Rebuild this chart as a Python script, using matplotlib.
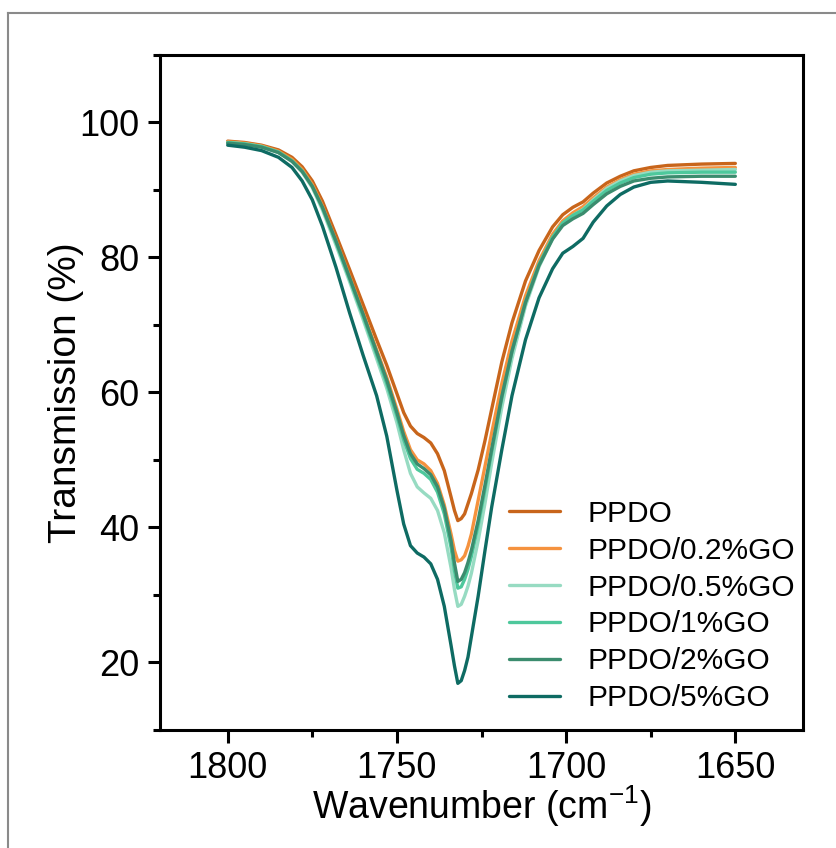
import matplotlib
matplotlib.use('Agg')
import matplotlib.pyplot as plt
from matplotlib.ticker import MultipleLocator
from matplotlib.lines import Line2D

plt.rcParams['font.family'] = ['Liberation Sans', 'DejaVu Sans']
plt.rcParams['mathtext.fontset'] = 'custom'
plt.rcParams['mathtext.rm'] = 'Liberation Sans'
plt.rcParams['mathtext.default'] = 'regular'

# wavenumber points (cm-1) shared by all spectra
wavenumber = [1800, 1795, 1790, 1785, 1781, 1778, 1775, 1772, 1768, 1764,
              1760, 1756, 1753, 1750, 1748, 1746, 1744, 1742, 1740, 1738,
              1736, 1734, 1733, 1732, 1731, 1730, 1729, 1728, 1726, 1724,
              1722, 1719, 1716, 1712, 1708, 1704, 1701, 1698, 1695, 1692,
              1688, 1684, 1680, 1675, 1670, 1660, 1650]

ppdo = [97.2, 97.0, 96.6, 95.9, 94.8, 93.4, 91.3, 88.3, 83.3, 78.2,
        73.0, 67.8, 64.0, 59.8, 57.0, 55.0, 53.9, 53.3, 52.5, 50.9,
        48.4, 44.5, 42.5, 41.0, 41.3, 42.0, 43.5, 45.0, 48.5, 52.8,
        57.5, 64.5, 70.3, 76.5, 81.0, 84.5, 86.3, 87.4, 88.2, 89.5,
        91.0, 92.0, 92.8, 93.3, 93.6, 93.8, 93.9]

go_02 = [97.1, 96.9, 96.5, 95.7, 94.5, 93.0, 90.8, 87.6, 82.5, 77.2,
         71.8, 66.3, 62.2, 57.5, 54.2, 51.5, 50.0, 49.4, 48.4, 46.5,
         43.3, 39.0, 36.6, 35.0, 35.2, 35.8, 37.2, 39.0, 44.0, 49.0,
         54.0, 61.3, 67.6, 74.3, 79.5, 83.4, 85.4, 86.6, 87.5, 88.8,
         90.4, 91.5, 92.3, 92.8, 93.0, 93.2, 93.3]

go_05 = [97.0, 96.8, 96.4, 95.5, 94.2, 92.6, 90.3, 87.0, 81.8, 76.4,
         70.8, 65.0, 60.6, 55.5, 51.5, 48.0, 46.0, 45.1, 44.3, 42.5,
         39.2, 34.0, 30.8, 28.3, 28.6, 29.8, 31.3, 33.2, 38.0, 43.5,
         49.5, 57.8, 65.0, 72.8, 78.6, 82.8, 85.0, 86.2, 87.1, 88.5,
         90.2, 91.3, 92.1, 92.6, 92.8, 92.9, 93.0]

go_1 = [97.0, 96.8, 96.4, 95.6, 94.3, 92.8, 90.5, 87.3, 82.2, 76.8,
        71.3, 65.6, 61.3, 56.5, 53.0, 50.2, 48.6, 48.0, 47.1, 45.2,
        42.0, 37.0, 33.6, 31.0, 31.2, 32.3, 33.8, 35.7, 40.3, 45.6,
        51.2, 59.2, 66.0, 73.4, 79.0, 83.0, 85.1, 86.2, 87.0, 88.3,
        89.9, 91.0, 91.8, 92.3, 92.5, 92.6, 92.6]

go_2 = [96.9, 96.7, 96.3, 95.5, 94.2, 92.7, 90.5, 87.4, 82.4, 77.0,
        71.6, 66.0, 61.8, 57.0, 53.6, 50.9, 49.4, 48.7, 47.8, 46.0,
        42.8, 38.0, 34.7, 32.0, 32.3, 33.3, 34.8, 36.6, 41.0, 46.2,
        51.6, 59.4, 66.1, 73.3, 78.8, 82.7, 84.7, 85.7, 86.5, 87.8,
        89.4, 90.5, 91.3, 91.7, 91.9, 92.0, 92.0]

go_5 = [96.6, 96.3, 95.8, 94.8, 93.3, 91.3, 88.5, 84.6, 78.5, 71.8,
        65.5, 59.5, 53.5, 45.5, 40.5, 37.3, 36.2, 35.6, 34.6, 32.3,
        28.3, 22.5, 19.5, 16.9, 17.3, 18.8, 20.8, 23.8, 29.8, 36.5,
        43.0, 51.5, 59.5, 67.8, 74.0, 78.3, 80.6, 81.6, 82.8, 85.2,
        87.6, 89.3, 90.4, 91.1, 91.3, 91.1, 90.8]

labels = ['PPDO', 'PPDO/0.2%GO', 'PPDO/0.5%GO', 'PPDO/1%GO', 'PPDO/2%GO', 'PPDO/5%GO']
series = [ppdo, go_02, go_05, go_1, go_2, go_5]
colors = ['#c8651b', '#f5923e', '#97dbc2', '#4ec89c', '#3b8c6e', '#0e6b63']


def plot_spectra():
    fig = plt.figure(figsize=(8.37, 8.48), dpi=100)
    ax = fig.add_axes([0.1912, 0.1392, 0.7682, 0.7963])

    for y, c, lab in zip(series, colors, labels):
        ax.plot(wavenumber, y, color=c, lw=2.4, label=lab,
                solid_joinstyle='round', solid_capstyle='round')

    ax.set_xlim(1820, 1630)
    ax.set_ylim(10, 110)
    ax.xaxis.set_major_locator(MultipleLocator(50))
    ax.xaxis.set_minor_locator(MultipleLocator(25))
    ax.yaxis.set_major_locator(MultipleLocator(20))
    ax.yaxis.set_minor_locator(MultipleLocator(10))

    for sp in ax.spines.values():
        sp.set_linewidth(2.2)
    ax.tick_params(which='major', direction='out', length=9, width=2.2,
                   labelsize=26, pad=6)
    ax.tick_params(which='minor', direction='out', length=5, width=2.2)

    ax.set_xlabel('Wavenumber (cm$^{-1}$)', fontsize=27, labelpad=-2)
    ax.set_ylabel('Transmission (%)', fontsize=28)
    ax.yaxis.set_label_coords(-0.118, 0.5)

    ax.legend(loc='lower left', bbox_to_anchor=(0.542, 0.026), frameon=False,
              fontsize=21.5, handlelength=1.72, handletextpad=0.92,
              labelspacing=0.3, borderpad=0, borderaxespad=0)

    # grey outer frame of the original panel
    fig.add_artist(Line2D([8 / 837, 8 / 837], [0, 1 - 13 / 848],
                          transform=fig.transFigure, color='#8a8a8a', lw=1.5))
    fig.add_artist(Line2D([8 / 837, 1], [1 - 13 / 848, 1 - 13 / 848],
                          transform=fig.transFigure, color='#8a8a8a', lw=1.5))

    fig.savefig('out.png', dpi=100)


if __name__ == '__main__':
    plot_spectra()
